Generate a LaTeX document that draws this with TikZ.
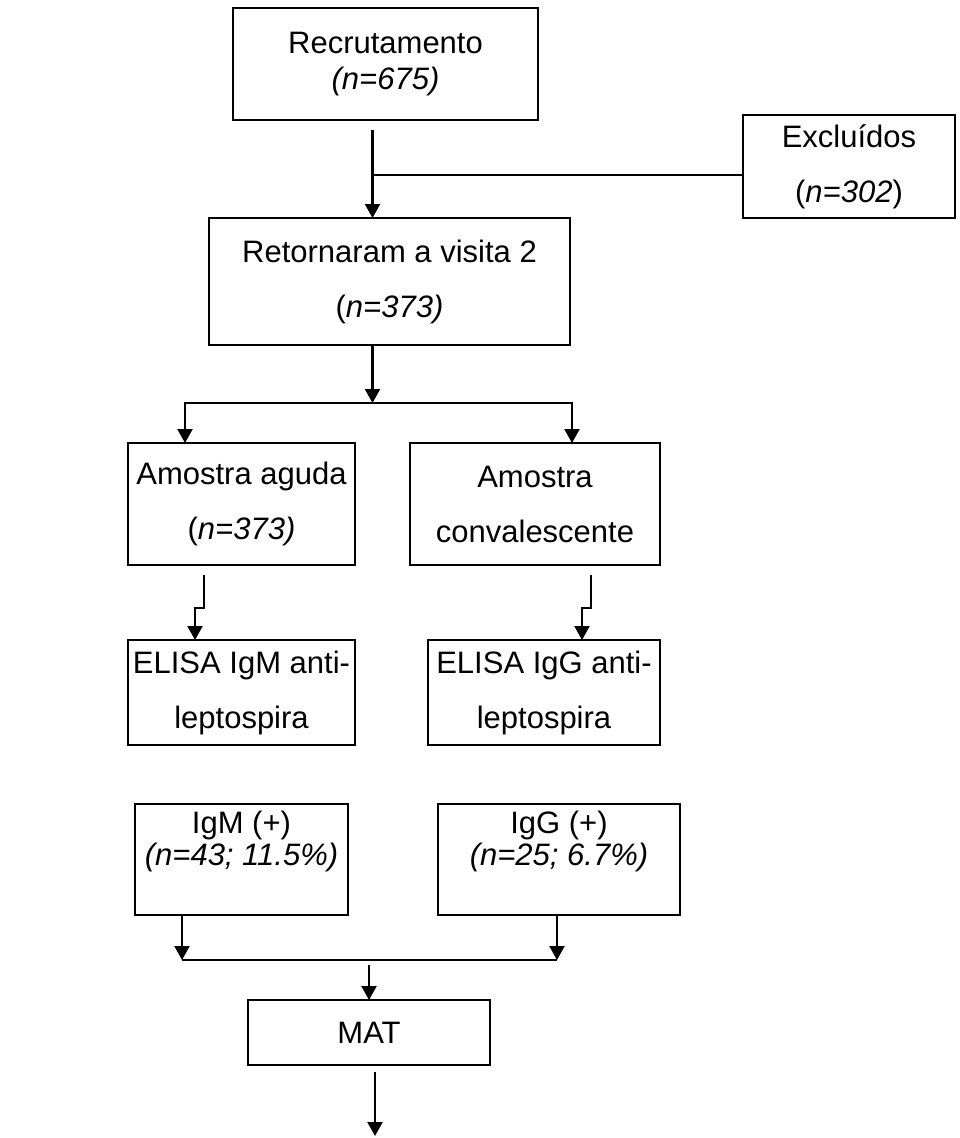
\documentclass[tikz,border=0pt]{standalone}
\usepackage{fontspec}
\setmainfont{Liberation Sans}
\usepackage{tikz}
\usetikzlibrary{arrows.meta, positioning, calc}
\tikzset{
	box/.style      ={rectangle, draw=black, line width=2.2pt, align=center, inner sep=3pt, outer sep=0pt, fill=white},
	flowarrow/.style={-{Triangle[length=14pt, width=15pt]}, line width=2.2pt},
	link/.style     ={line width=2.2pt},
}

\begin{document}
\begin{tikzpicture}[font=\fontsize{31pt}{36pt}\selectfont]
			\useasboundingbox (0,0) rectangle (960pt,-1138pt);
			\node[box, minimum width=305pt, minimum height=112pt] (rec) at (385.5pt,-64pt) {Recrutamento\\ \textit{(n=675)}};
			\node[box, below right=107pt and 205pt of rec.north east, minimum width=212pt, minimum height=103pt] (exc) {Exclu\'idos\\[19pt] (\textit{n=302})};
			\node[box, below=98pt of rec, xshift=4pt, minimum width=361pt, minimum height=127pt] (ret) {Retornaram a visita 2\\[19pt] (\textit{n=373)}};
			\node[box, below=98pt of ret, xshift=-148pt, minimum width=227pt, minimum height=122pt] (agu) {Amostra aguda\\[19pt] (\textit{n=373)}};
			\node[box, right=55pt of agu, minimum width=250pt, minimum height=122pt] (con) {Amostra\\[19pt] convalescente};
			\node[box, below=75pt of agu, minimum width=227pt, minimum height=105pt] (elm) {ELISA IgM anti-\\[19pt] leptospira};
			\node[box, right=73pt of elm, minimum width=232pt, minimum height=105pt] (elg) {ELISA IgG anti-\\[19pt] leptospira};
			\node[box, below=59pt of elm, minimum width=213pt, minimum height=111pt] (igm) {IgM (+)\\[-4pt] \textit{(n=43; 11.5\%)}\\[6pt] \mbox{}};
			\node[box, right=90pt of igm, minimum width=242pt, minimum height=111pt] (igg) {IgG (+)\\[-4pt] \textit{(n=25; 6.7\%)}\\[6pt] \mbox{}};
			\node[box, below=85pt of igm, xshift=127.5pt, minimum width=242pt, minimum height=65pt] (mat) {MAT};
			% recruitment and exclusions
			\coordinate (split1) at ([xshift=-13pt, yshift=-55pt]rec.south);
			\draw[flowarrow] ([xshift=-13pt, yshift=-10pt]rec.south) -- ([xshift=-17pt]ret.north);
			\draw[link] (split1) -- (split1 -| exc.west);
			% two samples
			\coordinate (split2) at ([xshift=-17pt, yshift=-58pt]ret.south);
			\coordinate (inA) at ([xshift=-56.5pt]agu.north);
			\coordinate (inC) at ([xshift=37pt]con.north);
			\draw[flowarrow] ([xshift=-17pt]ret.south) -- (split2);
			\draw[flowarrow] (split2) -| (inA);
			\draw[flowarrow] (split2) -| (inC);
			% serology
			\draw[flowarrow] ([xshift=-37.5pt, yshift=-10pt]agu.south) -- ++(0,-33pt) -- ++(-9pt,0) -- ([xshift=-46.5pt]elm.north);
			\draw[flowarrow] ([xshift=56pt, yshift=-10pt]con.south) -- ++(0,-33pt) -- ++(-9pt,0) -- ([xshift=38pt]elg.north);
			% positives to MAT
			\coordinate (outM) at ([xshift=-59.5pt]igm.south);
			\coordinate (outG) at ([xshift=-2pt]igg.south);
			\coordinate (merge) at ([yshift=-45pt]outM);
			\draw[flowarrow] (outM) -- (merge);
			\draw[flowarrow] (outG) -- (outG |- merge);
			\draw[link] (merge) -- (outG |- merge);
			\draw[flowarrow] ([yshift=35pt]mat.north) -- (mat.north);
			\coordinate (endpt) at ([xshift=6pt, yshift=-71pt]mat.south);
			\draw[flowarrow] ([xshift=6pt, yshift=-7pt]mat.south) -- (endpt);
		\end{tikzpicture}
\end{document}
